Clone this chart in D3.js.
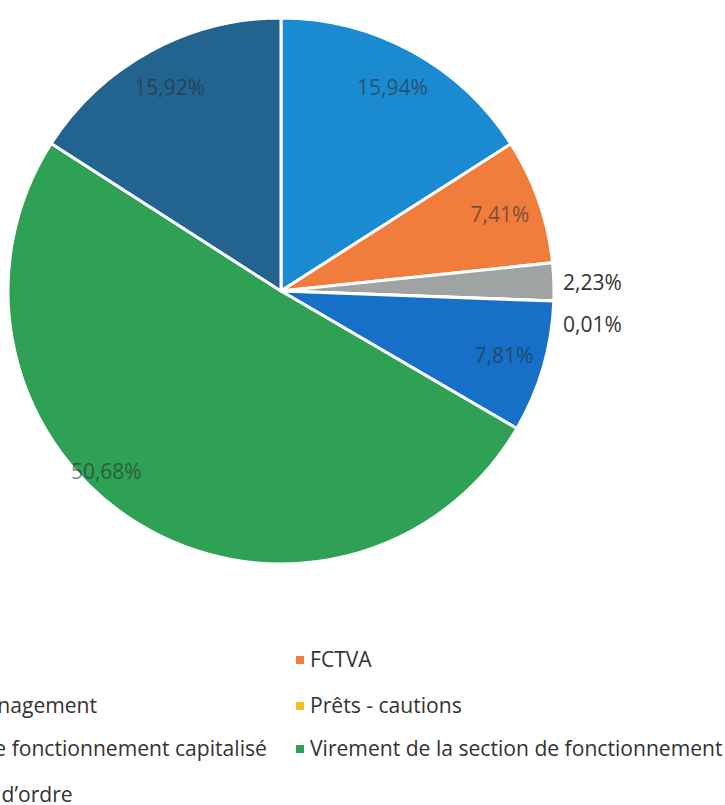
<!DOCTYPE html>
<html><head><meta charset="utf-8">
<script src="https://cdn.jsdelivr.net/npm/d3@7"></script>
<style>html,body{margin:0;padding:0;background:#fff;overflow:hidden}</style>
</head><body>
<svg id="c" width="725" height="805"></svg>
<script>
const categories = ["Emprunts", "FCTVA", "Taxe d’aménagement", "Prêts - cautions", "Excédent de fonctionnement capitalisé", "Virement de la section de fonctionnement", "Opérations d’ordre"];
const values = [15.94, 7.41, 2.23, 0.01, 7.81, 50.68, 15.92];
const labels = ["15,94%", "7,41%", "2,23%", "0,01%", "7,81%", "50,68%", "15,92%"];
const colors = ["#1a8bd0", "#f07d3c", "#a0a3a3", "#f5bf2a", "#1670c8", "#2ea155", "#236390"];

const svg = d3.select("#c");
const cx = 281, cy = 291, R = 273;
const g = svg.append("g").attr("transform", `translate(${cx},${cy})`);
const pie = d3.pie().sort(null).value(d => d)(values);
const arc = d3.arc().innerRadius(0).outerRadius(R);
g.selectAll("path").data(pie).join("path")
  .attr("d", arc).attr("fill", (d, i) => colors[i])
  .attr("stroke", "#fff").attr("stroke-width", 3).attr("stroke-linejoin", "round");

// labels
const font = "'Open Sans', sans-serif";
pie.forEach((d, i) => {
  let a = (d.startAngle + d.endAngle) / 2;
  let r = 0.85 * R;
  let fill = "rgba(45,45,45,0.6)";
  if (i === 5) { a += 0.22; r = 0.92 * R; }
  let x = Math.sin(a) * r, y = -Math.cos(a) * r;
  let anchor = "middle";
  if (i === 2 || i === 3) {
    fill = "#333";
    anchor = "start";
    x = R + 9;
    y = i === 2 ? -8 : 34;
  }
  g.append("text").attr("x", x).attr("y", y).attr("dy", "0.35em")
    .attr("text-anchor", anchor).attr("font-family", font).attr("font-size", 21)
    .attr("fill", fill).text(labels[i]);
});

// legend (two columns, row-wise, left column clipped by window as in the reference)
const colX = [-128, 296];
const rowY = [660, 706, 749, 795];
categories.forEach((c, i) => {
  const col = i % 2, row = Math.floor(i / 2);
  const lg = svg.append("g").attr("transform", `translate(${colX[col]},${rowY[row]})`);
  lg.append("rect").attr("x", 0).attr("y", -4).attr("width", 8).attr("height", 8).attr("fill", colors[i]);
  lg.append("text").attr("x", 14).attr("y", 0).attr("dy", "0.35em")
    .attr("font-family", font).attr("font-size", 21.1).attr("fill", "#333").text(c);
});
</script>
</body></html>
